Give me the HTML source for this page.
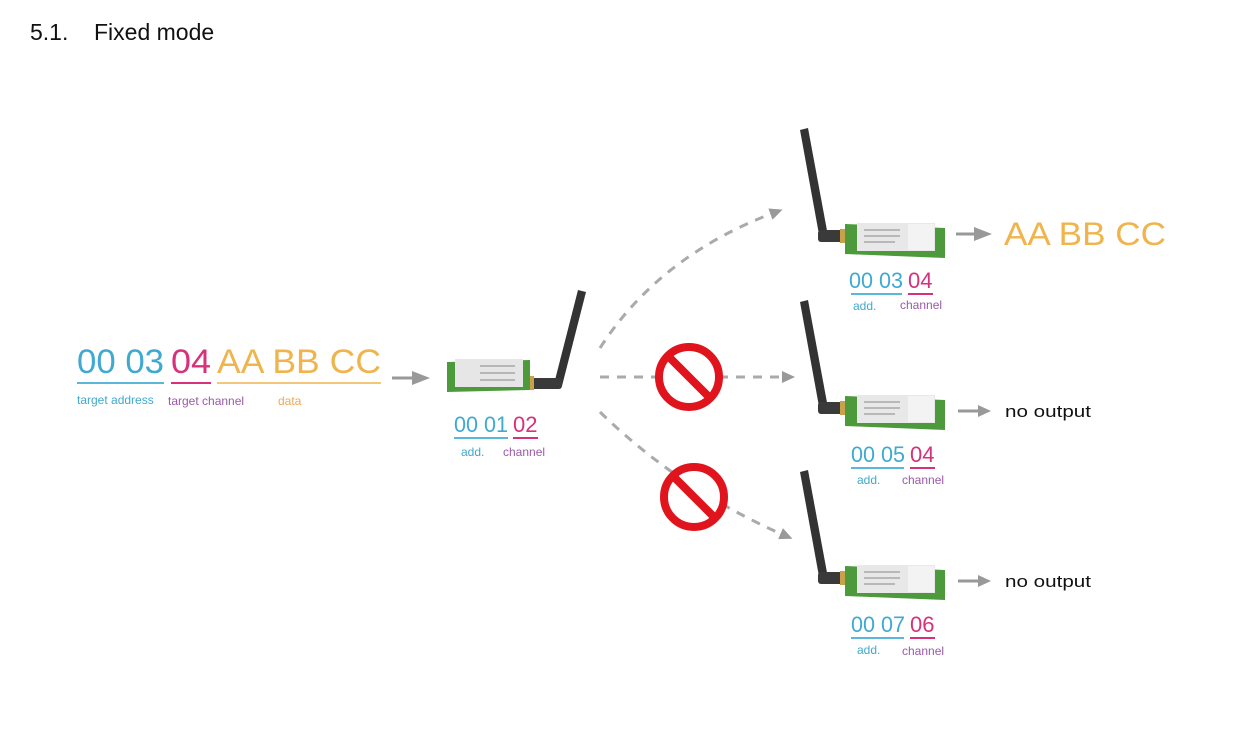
<!DOCTYPE html>
<html><head><meta charset="utf-8"><style>
body{margin:0;background:#fff;width:1236px;height:754px;overflow:hidden}
svg{display:block;font-family:"Liberation Sans","DejaVu Sans",sans-serif}
</style></head><body>
<svg width="1236" height="754" viewBox="0 0 1236 754">
<defs>
<marker id="ah" markerWidth="20" markerHeight="20" refX="8" refY="8" orient="auto" markerUnits="userSpaceOnUse"><path d="M0,1 L18,8 L0,15 Z" fill="#999"/></marker>
<marker id="ahs" markerWidth="16" markerHeight="16" refX="6" refY="6" orient="auto" markerUnits="userSpaceOnUse"><path d="M0,0 L13,6 L0,12 Z" fill="#999"/></marker>
<g id="modR">
  <path d="M800,130 L808,128 L828,236 L820,240 Z" fill="#333"/>
  <rect x="818" y="230" width="30" height="12" rx="3" fill="#3a3a3a"/>
  <rect x="840" y="229" width="10" height="14" fill="#c9a14a"/>
  <path d="M845,224 L945,228 L945,258 L845,254 Z" fill="#4c9a3c"/>
  <rect x="857" y="223" width="78" height="28" fill="#e8e8e8"/>
  <rect x="908" y="224" width="26" height="26" fill="#f3f3f3"/>
  <g stroke="#888" stroke-width="1"><line x1="864" y1="230" x2="900" y2="230"/><line x1="864" y1="236" x2="900" y2="236"/><line x1="864" y1="242" x2="895" y2="242"/></g>
</g>
<g id="nogo">
  <circle cx="0" cy="0" r="30" fill="#fff" stroke="#e0141c" stroke-width="8"/>
  <line x1="-21" y1="-21" x2="21" y2="21" stroke="#e0141c" stroke-width="8"/>
</g>
</defs>

<text x="30" y="40" font-size="23" fill="#111">5.1.<tspan x="94">Fixed mode</tspan></text>

<g>
<text x="77" y="373" font-size="34" fill="#3fa9d0" textLength="87" lengthAdjust="spacingAndGlyphs">00 03</text>
<text x="171" y="373" font-size="34" fill="#d6317a" textLength="40" lengthAdjust="spacingAndGlyphs">04</text>
<text x="217" y="373" font-size="34" fill="#f0b44c" textLength="164" lengthAdjust="spacingAndGlyphs">AA BB CC</text>
<line x1="77" y1="383" x2="164" y2="383" stroke="#5ab6da" stroke-width="2"/>
<line x1="171" y1="383" x2="211" y2="383" stroke="#d6317a" stroke-width="2"/>
<line x1="217" y1="383" x2="381" y2="383" stroke="#f3c77a" stroke-width="2"/>
<text x="77" y="404" font-size="12" fill="#3fa9d0">target address</text>
<text x="168" y="405" font-size="12" fill="#9b59a8">target channel</text>
<text x="278" y="405" font-size="12" fill="#f0a850">data</text>
</g>
<line x1="392" y1="378" x2="420" y2="378" stroke="#999" stroke-width="3" marker-end="url(#ah)"/>

<g>
  <path d="M578,290 L586,292 L562,386 L554,384 Z" fill="#333"/>
  <rect x="528" y="378" width="34" height="11" rx="3" fill="#3a3a3a"/>
  <rect x="526" y="376" width="8" height="14" fill="#c9a14a"/>
  <path d="M447,362 L530,360 L530,390 L447,392 Z" fill="#4c9a3c"/>
  <rect x="455" y="359" width="68" height="28" fill="#e6e6e6"/>
  <g stroke="#888"><line x1="480" y1="366" x2="515" y2="366"/><line x1="480" y1="373" x2="515" y2="373"/><line x1="480" y1="380" x2="515" y2="380"/></g>
  <text x="454" y="432" font-size="22" fill="#3fa9d0" textLength="54" lengthAdjust="spacingAndGlyphs">00 01</text>
  <text x="513" y="432" font-size="22" fill="#d6317a">02</text>
  <line x1="454" y1="438" x2="508" y2="438" stroke="#5ab6da" stroke-width="2"/>
  <line x1="513" y1="438" x2="538" y2="438" stroke="#d6317a" stroke-width="2"/>
  <text x="461" y="456" font-size="12" fill="#3fa9d0">add.</text>
  <text x="503" y="456" font-size="12" fill="#9b59a8">channel</text>
</g>

<g fill="none" stroke="#aaa" stroke-width="3" stroke-dasharray="9,8">
<path d="M600,348 Q660,255 776,212" marker-end="url(#ahs)"/>
<path d="M600,377 L788,377" marker-end="url(#ahs)"/>
<path d="M600,412 Q680,490 786,536" marker-end="url(#ahs)"/>
</g>
<use href="#nogo" x="689" y="377"/>
<use href="#nogo" x="694" y="497"/>

<g>
<use href="#modR"/>
<text x="849" y="288" font-size="22" fill="#3fa9d0" textLength="54" lengthAdjust="spacingAndGlyphs">00 03</text>
<text x="908" y="288" font-size="22" fill="#d6317a">04</text>
<line x1="851" y1="294" x2="902" y2="294" stroke="#5ab6da" stroke-width="2"/>
<line x1="908" y1="294" x2="933" y2="294" stroke="#d6317a" stroke-width="2"/>
<text x="853" y="310" font-size="12" fill="#3fa9d0">add.</text>
<text x="900" y="309" font-size="12" fill="#9b59a8">channel</text>
</g>
<line x1="956" y1="234" x2="982" y2="234" stroke="#999" stroke-width="3" marker-end="url(#ah)"/>
<text x="1004" y="245" font-size="32" fill="#f0b44c" textLength="162" lengthAdjust="spacingAndGlyphs">AA BB CC</text>

<g>
<use href="#modR" y="172"/>
<text x="851" y="462" font-size="22" fill="#3fa9d0" textLength="54" lengthAdjust="spacingAndGlyphs">00 05</text>
<text x="910" y="462" font-size="22" fill="#d6317a">04</text>
<line x1="851" y1="468" x2="904" y2="468" stroke="#5ab6da" stroke-width="2"/>
<line x1="910" y1="468" x2="935" y2="468" stroke="#d6317a" stroke-width="2"/>
<text x="857" y="484" font-size="12" fill="#3fa9d0">add.</text>
<text x="902" y="484" font-size="12" fill="#9b59a8">channel</text>
</g>
<line x1="958" y1="411" x2="984" y2="411" stroke="#999" stroke-width="3" marker-end="url(#ahs)"/>
<text x="1005" y="417" font-size="17" fill="#111" textLength="86" lengthAdjust="spacingAndGlyphs">no output</text>

<g>
<use href="#modR" y="342"/>
<text x="851" y="632" font-size="22" fill="#3fa9d0" textLength="54" lengthAdjust="spacingAndGlyphs">00 07</text>
<text x="910" y="632" font-size="22" fill="#d6317a">06</text>
<line x1="851" y1="638" x2="904" y2="638" stroke="#5ab6da" stroke-width="2"/>
<line x1="910" y1="638" x2="935" y2="638" stroke="#d6317a" stroke-width="2"/>
<text x="857" y="654" font-size="12" fill="#3fa9d0">add.</text>
<text x="902" y="655" font-size="12" fill="#9b59a8">channel</text>
</g>
<line x1="958" y1="581" x2="984" y2="581" stroke="#999" stroke-width="3" marker-end="url(#ahs)"/>
<text x="1005" y="587" font-size="17" fill="#111" textLength="86" lengthAdjust="spacingAndGlyphs">no output</text>
</svg>
</body></html>
